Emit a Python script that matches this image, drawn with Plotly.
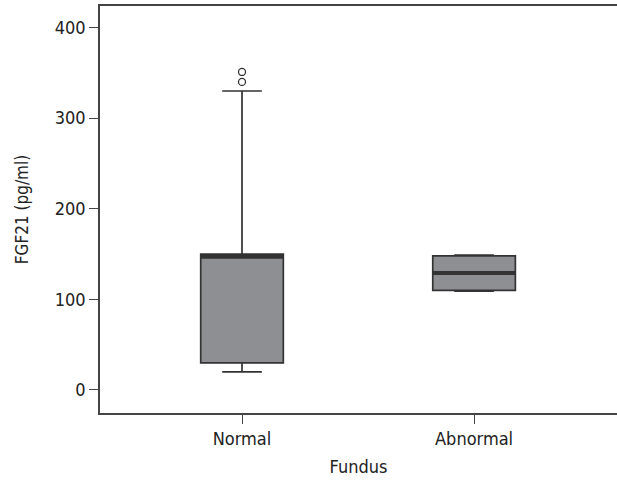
import plotly.graph_objects as go

categories = ["Normal", "Abnormal"]
lower_fence = [20, 109]
q1 = [30, 110]
median = [147, 129]
q3 = [150, 148]
upper_fence = [330, 149]
outliers_normal = [340, 351]
y_ticks = [0, 100, 200, 300, 400]

FONT = "Liberation Sans Narrow, DejaVu Sans Condensed, Arial Narrow, sans-serif"
DARK = "#333333"
FILL = "#8e8f93"
BOX_W = 0.356

xpos = list(range(len(categories)))

fig = go.Figure()
fig.add_trace(go.Box(
    x=xpos, q1=q1, median=median, q3=q3,
    lowerfence=lower_fence, upperfence=upper_fence,
    width=BOX_W, whiskerwidth=0.48,
    fillcolor=FILL, line=dict(color=DARK, width=1.7),
    boxpoints=False, showlegend=False, hoverinfo="skip",
))

# thicker median lines
mx, my = [], []
for i, m in zip(xpos, median):
    mx += [i - BOX_W / 2, i + BOX_W / 2, None]
    my += [m, m, None]
fig.add_trace(go.Scatter(x=mx, y=my, mode="lines",
                         line=dict(color=DARK, width=4), showlegend=False,
                         hoverinfo="skip"))

fig.add_trace(go.Scatter(
    x=[xpos[0]] * len(outliers_normal), y=outliers_normal, mode="markers",
    marker=dict(symbol="circle-open", size=7, color=DARK, line=dict(width=1.3)),
    showlegend=False, hoverinfo="skip",
))

fig.update_layout(
    width=617, height=481,
    margin=dict(l=100, r=0, t=6, b=68),
    paper_bgcolor="white", plot_bgcolor="white",
    font=dict(family=FONT, size=18, color="#222222"),
)
fig.update_xaxes(
    range=[-0.612, 1.616], tickmode="array", tickvals=xpos, ticktext=categories,
    showgrid=False, zeroline=False, showline=True, linecolor="#444444", linewidth=1.5,
    mirror=True, ticks="outside", ticklen=9, tickcolor="#444444",
    tickfont=dict(size=18),
    title=dict(text="Fundus", font=dict(size=18), standoff=12),
)
fig.update_yaxes(
    range=[-25.4, 423.8], tickmode="array", tickvals=y_ticks,
    showgrid=False, zeroline=False, showline=True, linecolor="#444444", linewidth=1.5,
    mirror=False, ticks="outside", ticklen=9, tickcolor="#444444",
    tickfont=dict(size=18),
    title=dict(text="FGF21 (pg/ml)", font=dict(size=17), standoff=22),
)

fig.write_html("out.html")
